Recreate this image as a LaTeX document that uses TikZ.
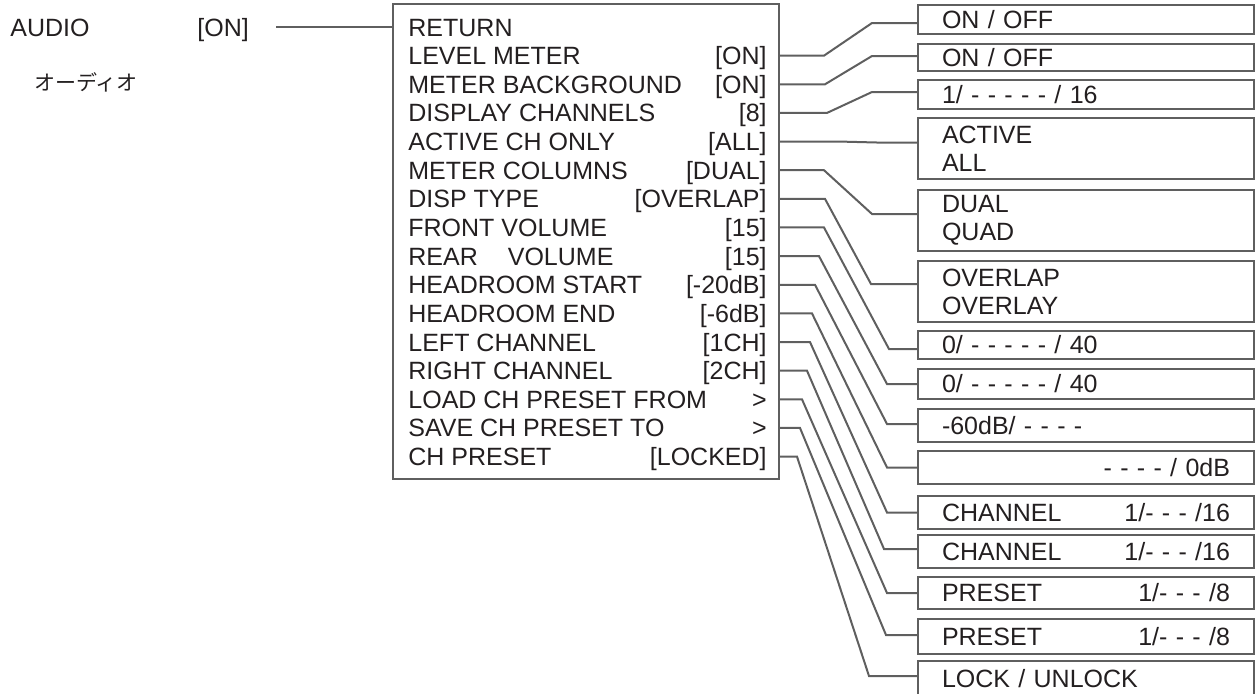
\documentclass[tikz,border=0pt]{standalone}
\usepackage{fontspec}
\setmainfont{Liberation Sans}
\newfontfamily\jpfont{Noto Sans CJK JP}
\usetikzlibrary{calc}

\definecolor{ink}{HTML}{231F20}
\definecolor{wirecol}{HTML}{5F5F5F}
\tikzset{
  wire/.style={draw=wirecol, line width=1pt},
  menurow/.style={inner sep=0pt, text height=9pt, text depth=0pt, text=ink,
    font=\fontsize{12.5}{14}\selectfont},
  optbox/.style={draw=wirecol, line width=1pt, anchor=north west, inner xsep=12pt,
    inner ysep=0pt, text width=144pt, align=left, text=ink,
    font=\fontsize{12.5}{14}\selectfont},
}

\begin{document}
\begin{tikzpicture}[x=0.5pt, y=-0.5pt]
  \useasboundingbox (0,0) rectangle (1260,693);
  % top level entry
  \node[menurow, anchor=west] (audio) at (10,27) {AUDIO};
  \node[menurow, anchor=west] (audioval) at (197,27) {[ON]};
  \node[anchor=west, inner sep=0pt, text=ink, font=\jpfont\fontsize{10.5}{12}\selectfont]
    (audiojp) at (34,82) {オーディオ};
  % sub menu frame and its rows
  \node[draw=wirecol, line width=1pt, anchor=north west, minimum width=193pt,
    minimum height=237.5pt, inner sep=0pt] (menu) at (392,3) {};
  \draw[wire, shorten <=13.5pt] (audioval.east) -- (menu.west |- audioval.east);
  \node[menurow, anchor=west] (r0) at (408,27) {RETURN};
  \foreach \i/\lab/\val in {1/LEVEL METER/[ON], 2/METER BACKGROUND/[ON],
      3/DISPLAY CHANNELS/[8], 4/ACTIVE CH ONLY/[ALL], 5/METER COLUMNS/[DUAL],
      6/DISP TYPE/[OVERLAP], 7/FRONT VOLUME/[15], 8/{REAR\hspace{15pt}VOLUME}/[15],
      9/HEADROOM START/[-20dB], 10/HEADROOM END/[-6dB], 11/LEFT CHANNEL/[1CH],
      12/RIGHT CHANNEL/[2CH], 13/LOAD CH PRESET FROM/>, 14/SAVE CH PRESET TO/>,
      15/CH PRESET/[LOCKED]} {
    \node[menurow, anchor=west] (r\i) at (408,{27+28.64*\i}) {\lab};
    \node[menurow, anchor=east] (v\i) at (767,{27+28.64*\i}) {\val};
  }
  % choice boxes on the right
  \foreach \i/\by/\bh/\opt in {1/4/29/{ON / OFF}, 2/43/27/{ON / OFF},
      3/79/29/{1/ - - - - - / 16}, 4/117/61/{ACTIVE\\ALL}, 5/189/61/{DUAL\\QUAD},
      6/260/61/{OVERLAP\\OVERLAY}, 7/330/28/{0/ - - - - - / 40},
      8/368/30/{0/ - - - - - / 40}, 9/408/33/{-60dB/ - - - -},
      10/450/33/{\hfill - - - - / 0dB}, 11/495/33/{CHANNEL\hfill 1/- - - /16},
      12/534/33/{CHANNEL\hfill 1/- - - /16}, 13/576/32/{PRESET\hfill 1/- - - /8},
      14/618/35/{PRESET\hfill 1/- - - /8}, 15/660/36/{LOCK / UNLOCK}} {
    \node[optbox, minimum height=\bh*0.5pt] (o\i) at (917,\by) {\opt};
  }
  % connectors: stub, slant, stub
  \foreach \i/\stub/\run/\dy in {1/44/45/3.5, 2/45/45/-1.5, 3/47/45/-2.5, 4/60/40/-6,
      5/44/45/-6.5, 6/45/46/-7.5, 7/44/28/4, 8/39/30/0, 9/35/30/-1.5, 10/32/30/0,
      11/30/30/0, 12/27/33/-2.5, 13/22/30/0, 14/20/31/-1.5, 15/17/48/-3} {
    \draw[wire] (menu.east |- v\i.east) -- ++(\stub,0)
      -- ($(o\i.west)+(-\run,\dy)$) -- ++(\run,0);
  }
\end{tikzpicture}
\end{document}
